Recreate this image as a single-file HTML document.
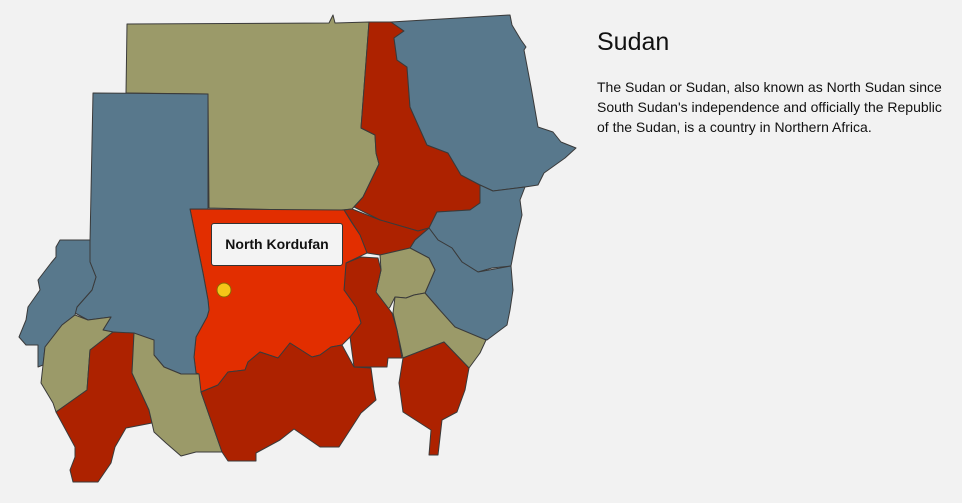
<!DOCTYPE html>
<html><head><meta charset="utf-8"><style>
html,body{margin:0;padding:0;background:#f2f2f2;width:962px;height:503px;overflow:hidden;font-family:"Liberation Sans","DejaVu Sans",sans-serif}
svg{position:absolute;left:0;top:0}
polygon{stroke:#3a3a3a;stroke-width:1;stroke-linejoin:round}
.o{fill:#9b9a69}.b{fill:#58788c}.r{fill:#ad2200}.h{fill:#e22e00}
#info{position:absolute;left:597px;top:26px;width:350px;color:#111}
#info h1{margin:0;font-weight:normal;font-size:25px;line-height:32px}
#info p{margin:19px 0 0;font-size:14px;line-height:20px}
#tip{position:absolute;left:211px;top:223px;width:130px;height:41px;background:#f3f3f3;border:1px solid #333;border-radius:3px;font-weight:bold;font-size:14px;line-height:41px;text-align:center;color:#111}
</style></head><body>
<svg width="962" height="503">
<polygon class="o" points="127,24 329,23 333,15 335,23 369,22 361,128 375,135 376,153 379,164 363,197 352,209 331,211 209,208 208,94 126,93"/>
<polygon class="r" points="369,22 391,22 404,31 394,38 397,60 407,67 410,107 427,145 448,153 461,175 480,185 480,203 470,210 437,212 429,228 418,231 380,220 354,207 363,197 379,164 376,153 375,135 361,128"/>
<polygon class="b" points="391,22 510,15 512,25 521,40 526,47 524,50 531,87 538,127 553,132 561,142 576,148 565,158 544,173 538,185 525,187 493,191 480,185 461,175 448,153 427,145 410,107 407,67 397,60 394,38 404,31"/>
<polygon class="b" points="480,185 493,191 525,187 520,200 522,215 516,240 511,266 492,268 478,272 462,262 452,248 438,240 429,228 437,212 470,210 480,203"/>
<polygon class="b" points="429,228 438,240 452,248 462,262 478,272 511,266 513,290 510,310 507,325 487,340 470,335 458,330 445,317 438,308 425,293 435,270 429,258 410,248 415,240"/>
<polygon class="r" points="352,209 380,220 418,231 429,228 415,240 410,248 380,255 367,253 360,235 344,210"/>
<polygon class="o" points="380,255 410,248 429,258 435,270 425,293 414,295 406,298 395,297 390,307 386,312 376,292 381,270"/>
<polygon class="o" points="425,293 438,308 455,327 486,340 480,353 469,368 444,342 403,358 397,330 393,313 395,297 406,298 414,295"/>
<polygon class="r" points="346,263 361,257 378,258 381,270 376,292 392,313 397,330 402,358 388,358 387,367 354,367 350,337 361,323 356,307 344,290"/>
<polygon class="r" points="403,358 444,342 469,368 465,390 457,412 442,420 438,455 429,455 431,430 403,412 399,383"/>
<polygon class="h" points="190,209 344,210 352,223 360,235 367,253 346,263 344,290 356,307 361,323 350,337 342,345 331,347 320,355 312,357 301,350 290,343 278,358 260,352 248,362 245,370 228,372 218,385 201,392 196,373 194,357 196,337 207,317 209,310 208,300 203,273"/>
<polygon class="b" points="93,93 208,94 208,209 190,209 203,273 208,300 209,310 207,317 196,337 194,357 196,373 199,374 181,374 164,367 154,355 137,335 113,332 103,330 111,317 88,320 75,313 77,307 92,290 96,277 90,262 90,242"/>
<polygon class="b" points="90,240 60,240 56,247 56,257 51,263 38,280 40,290 28,307 26,320 19,337 26,345 38,345 38,367 43,365 45,347 62,325 75,315 77,307 92,290 96,277 90,262"/>
<polygon class="o" points="75,315 88,320 111,317 103,330 113,332 90,350 87,390 56,412 53,403 41,383 43,365 45,347 62,325"/>
<polygon class="r" points="113,332 134,333 132,373 149,410 152,423 126,428 115,447 111,463 98,482 73,482 70,470 75,457 75,447 56,412 87,390 90,350"/>
<polygon class="o" points="134,333 154,340 154,355 164,367 181,374 199,374 201,392 222,452 196,452 181,456 166,443 154,432 152,423 149,410 132,373"/>
<polygon class="r" points="201,392 218,385 228,372 245,370 248,362 260,352 278,358 290,343 301,350 312,357 320,355 331,347 342,345 354,367 371,368 374,390 376,400 361,413 339,447 320,447 294,429 280,440 256,453 256,461 228,461 222,452"/>
<circle cx="224" cy="290" r="7" fill="#f5c518" stroke="#8a6a00" stroke-width="1"/>
</svg>
<div id="tip">North Kordufan</div>
<div id="info">
<h1>Sudan</h1>
<p>The Sudan or Sudan, also known as North Sudan since South Sudan's independence and officially the Republic of the Sudan, is a country in Northern Africa.</p>
</div>
</body></html>
